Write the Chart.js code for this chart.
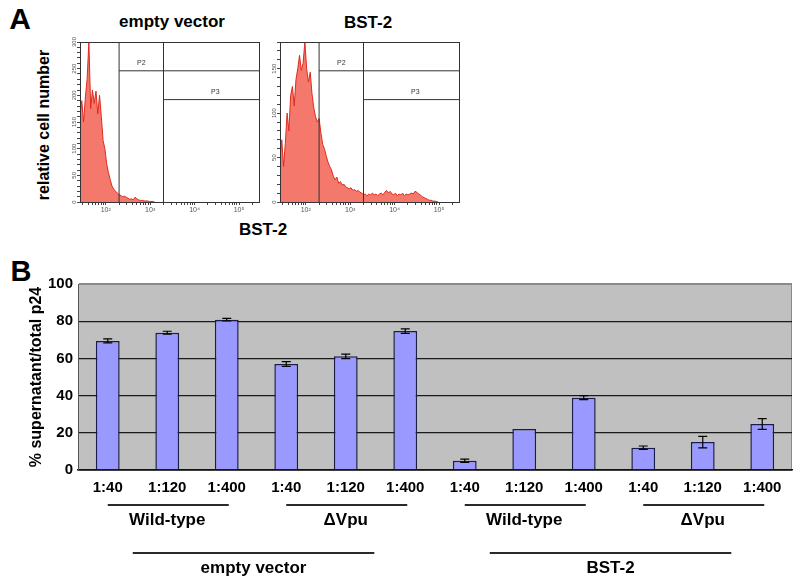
<!DOCTYPE html>
<html><head><meta charset="utf-8">
<script src="https://cdn.jsdelivr.net/npm/chart.js@4.4.1/dist/chart.umd.min.js"></script>
<style>
html,body{margin:0;padding:0;background:#fff;}
body{width:800px;height:582px;position:relative;overflow:hidden;font-family:'Liberation Sans',Arial,sans-serif;}
canvas{position:absolute;}
.t{position:absolute;font-weight:bold;color:#000;white-space:nowrap;line-height:1;transform:translate(-50%,-50%);}
</style></head><body>
<div class="t" style="left:20px;top:19px;font-size:30px;">A</div>
<div class="t" style="left:21px;top:271px;font-size:29px;">B</div>
<div class="t" style="left:172px;top:21px;font-size:17px;">empty vector</div>
<div class="t" style="left:368px;top:22px;font-size:17px;">BST-2</div>
<div class="t" style="left:44px;top:125px;font-size:16px;transform:translate(-50%,-50%) rotate(-90deg);">relative cell number</div>
<div class="t" style="left:263px;top:229px;font-size:17px;">BST-2</div>
<canvas id="hEV" width="207" height="186" style="left:58px;top:34px;"></canvas>
<canvas id="hBST" width="210" height="186" style="left:255px;top:34px;"></canvas>
<canvas id="chartB" width="800" height="332" style="left:0px;top:250px;"></canvas>
<script>
// ---------- Panel A data (flow cytometry histograms) ----------
const binStart = 1.42;      // log10 fluorescence of first channel
const binStep = 0.04;       // log10 width of a channel
const countsEmptyVector = [165,190,150,195,230,300,175,210,185,208,165,200,160,115,100,72,55,42,30,24,20,17,14,12,10,11,9,7,5,6,4,9,6,4,3,3,2,2,2,1,1,1,0];
const countsBST2 = [50,70,40,66,100,80,120,130,108,138,150,165,148,156,180,150,135,146,122,106,96,90,94,78,65,60,52,45,40,36,29,25,28,21,23,19,20,17,16,15,16,13,14,12,13,11,10,8,9,7,9,8,10,8,9,7,9,10,8,11,13,10,12,9,8,10,7,9,8,10,7,9,8,9,10,9,12,11,9,8,6,5,4,3,2,2,1,1,0.5,0];
const gateX = [2.30, 3.30];          // P2 and P3 lower bounds (log10)
const gateYFrac = [0.82, 0.64];      // gate top lines as fraction of axis max
const gateNames = ['P2', 'P3'];
const histXRange = [1.42, 5.45];

// ---------- Panel B data ----------
const dilutions = ['1:40','1:120','1:400','1:40','1:120','1:400','1:40','1:120','1:400','1:40','1:120','1:400'];
const percentP24 = [69.4, 73.8, 80.8, 57.0, 61.1, 74.7, 5.0, 22.0, 38.9, 12.0, 15.0, 24.7];
const errorP24 = [1.1, 0.8, 0.7, 1.25, 1.25, 1.2, 0.9, 0, 1.1, 0.9, 3.1, 2.9];
const virusGroups = ['Wild-type', '\u0394Vpu', 'Wild-type', '\u0394Vpu'];
const vectorGroups = ['empty vector', 'BST-2'];

const FONT = "'Liberation Sans', Arial, sans-serif";
const SUP = {2:'\u00b2',3:'\u00b3',4:'\u2074',5:'\u2075'};

function boxPlugin(){
  return {id:'box', afterDatasetsDraw(chart){
    const a = chart.chartArea, ctx = chart.ctx;
    ctx.save(); ctx.strokeStyle = '#333'; ctx.lineWidth = 1;
    ctx.strokeRect(Math.round(a.left)+0.5, Math.round(a.top)+0.5, Math.round(a.right-a.left), Math.round(a.bottom-a.top));
    ctx.restore();
  }};
}
function yLabelPlugin(){
  return {id:'yrot', afterDraw(chart){
    const y = chart.scales.y, ctx = chart.ctx;
    ctx.save(); ctx.fillStyle = '#555'; ctx.font = '6px ' + FONT;
    ctx.textAlign = 'center'; ctx.textBaseline = 'middle';
    y.ticks.forEach(t => {
      if (t.value % 50 !== 0) return;
      const py = y.getPixelForValue(t.value);
      ctx.save(); ctx.translate(chart.chartArea.left - 6, py); ctx.rotate(-Math.PI/2);
      ctx.fillText(String(t.value), 0, 0); ctx.restore();
    });
    ctx.restore();
  }};
}
function gateLabelPlugin(ymax){
  return {id:'gatelbl', afterDatasetsDraw(chart){
    const x = chart.scales.x, y = chart.scales.y, ctx = chart.ctx;
    ctx.save(); ctx.fillStyle = '#333'; ctx.font = '7px ' + FONT;
    ctx.textAlign = 'center'; ctx.textBaseline = 'middle';
    const bounds = [gateX[0], gateX[1], histXRange[1]];
    gateNames.forEach((n,i) => {
      const cx = (x.getPixelForValue(bounds[i]) + x.getPixelForValue(bounds[i+1]))/2 + (i===1?4:0);
      const cy = y.getPixelForValue(gateYFrac[i]*ymax) - 8;
      ctx.fillText(n, cx, cy);
    });
    ctx.restore();
  }};
}

function makeHist(id, counts, ymax, yAxisWidth){
  const pts = counts.map((c,i) => ({x: binStart + i*binStep, y: c}));
  const gateStyle = {type:'line', borderColor:'#333', borderWidth:1, pointRadius:0, fill:false, tension:0};
  const datasets = [];
  gateX.forEach((gx,i) => {
    datasets.push(Object.assign({}, gateStyle, {data:[{x:gx,y:0},{x:gx,y:ymax}]}));
    datasets.push(Object.assign({}, gateStyle, {data:[{x:gx,y:gateYFrac[i]*ymax},{x:histXRange[1],y:gateYFrac[i]*ymax}]}));
  });
  datasets.push({type:'line', data:pts, borderColor:'#e0291d', borderWidth:1, backgroundColor:'rgba(243,108,95,0.92)', fill:'origin', pointRadius:0, tension:0});
  return new Chart(document.getElementById(id), {
    type:'line',
    data:{datasets},
    options:{
      responsive:false, animation:false, devicePixelRatio:1,
      layout:{padding:{top:8,right:6,left:0,bottom:0}},
      plugins:{legend:{display:false}, tooltip:{enabled:false}},
      scales:{
        x:{type:'linear', min:histXRange[0], max:histXRange[1],
          afterBuildTicks(s){ const t=[]; for(let n=1;n<=5;n++) for(let k=1;k<=9;k++){ const v=n+Math.log10(k); if(v>=s.min && v<=s.max) t.push({value:v}); } s.ticks=t; },
          ticks:{autoSkip:false, maxRotation:0, minRotation:0, padding:1, color:'#555', font:{family:FONT,size:7},
            callback:(v)=>{ const r=Math.round(v); return Math.abs(v-r)<1e-6 ? '10'+SUP[r] : ''; }},
          grid:{drawOnChartArea:false, tickLength:3, color:'#444'},
          border:{display:true, color:'#222'},
          afterFit(s){ s.height = 18; }},
        y:{min:0, max:ymax,
          afterBuildTicks(s){ const t=[]; for(let v=0; v<=ymax; v+=10) t.push({value:v}); s.ticks=t; },
          ticks:{display:false},
          grid:{drawOnChartArea:false, tickLength:3, color:'#444'},
          border:{display:true, color:'#222'},
          afterFit(s){ s.width = yAxisWidth; }}
      }
    },
    plugins:[boxPlugin(), yLabelPlugin(), gateLabelPlugin(ymax)]
  });
}
makeHist('hEV', countsEmptyVector, 300, 22);
makeHist('hBST', countsBST2, 180, 25);

// ---------- Panel B ----------
const bgPlugin = {id:'bg', beforeDraw(chart){
  const a = chart.chartArea, ctx = chart.ctx;
  ctx.save(); ctx.fillStyle = '#c0c0c0'; ctx.fillRect(a.left, a.top, a.right-a.left, a.bottom-a.top);
  ctx.strokeStyle = '#8a8a8a'; ctx.lineWidth = 1;
  ctx.strokeRect(a.left+0.5, a.top+0.5, a.right-a.left-1, a.bottom-a.top);
  ctx.restore();
}};
const errPlugin = {id:'err', afterDatasetsDraw(chart){
  const y = chart.scales.y, ctx = chart.ctx, meta = chart.getDatasetMeta(0);
  ctx.save(); ctx.strokeStyle = '#000'; ctx.lineWidth = 1.2;
  meta.data.forEach((bar,i) => {
    const e = errorP24[i]; if (!e) return;
    const yt = y.getPixelForValue(percentP24[i]+e), yb = y.getPixelForValue(percentP24[i]-e), x = bar.x;
    ctx.beginPath();
    ctx.moveTo(x, yt); ctx.lineTo(x, yb);
    ctx.moveTo(x-4.5, yt); ctx.lineTo(x+4.5, yt);
    ctx.moveTo(x-4.5, yb); ctx.lineTo(x+4.5, yb);
    ctx.stroke();
  });
  ctx.restore();
}};
const groupPlugin = {id:'groups', afterDraw(chart){
  const x = chart.scales.x, ctx = chart.ctx;
  ctx.save();
  ctx.strokeStyle = '#2a2a2a'; ctx.lineWidth = 2;
  ctx.fillStyle = '#000'; ctx.font = 'bold 17px ' + FONT;
  ctx.textAlign = 'center'; ctx.textBaseline = 'middle';
  virusGroups.forEach((g,i) => {
    const x0 = x.getPixelForValue(i*3), x1 = x.getPixelForValue(i*3+2);
    ctx.beginPath(); ctx.moveTo(x0, 255); ctx.lineTo(x1+2, 255); ctx.stroke();
    ctx.fillText(g, (x0+x1)/2, 270);
  });
  vectorGroups.forEach((g,i) => {
    const x0 = x.getPixelForValue(i*6+0.42), x1 = x.getPixelForValue(i*6+4.48);
    ctx.beginPath(); ctx.moveTo(x0, 303); ctx.lineTo(x1, 303); ctx.stroke();
    ctx.fillText(g, (x0+x1)/2, 318);
  });
  ctx.restore();
}};

new Chart(document.getElementById('chartB'), {
  type:'bar',
  data:{labels:dilutions, datasets:[{data:percentP24, backgroundColor:'#9999ff', borderColor:'#1c1c48', borderWidth:1.5, barPercentage:0.4, categoryPercentage:1}]},
  options:{
    responsive:false, animation:false, devicePixelRatio:1,
    layout:{padding:{top:34,right:8,left:0,bottom:0}},
    plugins:{legend:{display:false}, tooltip:{enabled:false}},
    scales:{
      x:{grid:{display:false, drawTicks:false}, border:{display:true, color:'#111', width:1.5},
        ticks:{color:'#000', font:{family:FONT,size:15,weight:'bold'}, padding:9, maxRotation:0, autoSkip:false},
        afterFit(s){ s.height = 112; }},
      y:{min:0, max:100,
        ticks:{stepSize:20, color:'#000', font:{family:FONT,size:15,weight:'bold'}, padding:5},
        grid:{color:(c)=> (c.tick && c.tick.value===100) ? '#8a8a8a' : '#1a1a1a', lineWidth:1.3, drawTicks:false},
        border:{display:true, color:'#555', width:1},
        title:{display:true, text:'% supernatant/total p24', color:'#000', font:{family:FONT,size:16,weight:'bold'}, padding:{top:27,bottom:0}},
        afterFit(s){ s.width = 78; }}
    }
  },
  plugins:[bgPlugin, errPlugin, groupPlugin]
});
</script>
</body></html>
